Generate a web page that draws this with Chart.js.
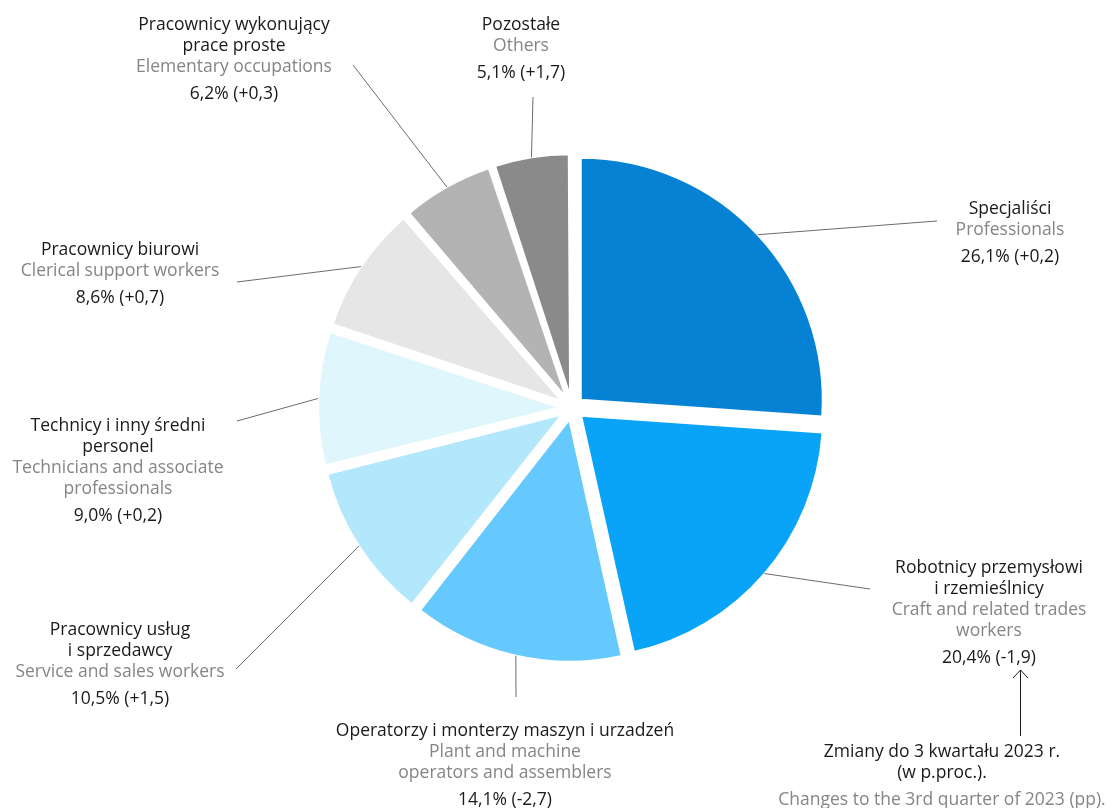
<!DOCTYPE html>
<html lang="pl">
<head>
<meta charset="utf-8">
<script src="https://cdn.jsdelivr.net/npm/chart.js@4"></script>
<style>
  html, body { margin: 0; padding: 0; background: #fff; }
  #wrap { position: relative; width: 1116px; height: 808px; overflow: hidden; }
  #chart { position: absolute; left: 0; top: 0; }
  .lbl {
    position: absolute; transform: translateX(-50%);
    text-align: center; white-space: nowrap;
    font-family: 'Open Sans', sans-serif; font-size: 17.5px; line-height: 21px;
    color: #1a1a1a;
  }
  .lbl .en { color: #858585; }
  .lbl .val { margin-top: 6px; }
</style>
</head>
<body>
<div id="wrap">
  <canvas id="chart" width="1116" height="808"></canvas>
</div>
<script>
// ── Data ──
const labelsPl = [
  ['Specjaliści'],
  ['Robotnicy przemysłowi', 'i rzemieślnicy'],
  ['Operatorzy i monterzy maszyn i urzadzeń'],
  ['Pracownicy usług', 'i sprzedawcy'],
  ['Technicy i inny średni', 'personel'],
  ['Pracownicy biurowi'],
  ['Pracownicy wykonujący', 'prace proste'],
  ['Pozostałe'],
];
const labelsEn = [
  ['Professionals'],
  ['Craft and related trades', 'workers'],
  ['Plant and machine', 'operators and assemblers'],
  ['Service and sales workers'],
  ['Technicians and associate', 'professionals'],
  ['Clerical support workers'],
  ['Elementary occupations'],
  ['Others'],
];
const shares  = [26.1, 20.4, 14.1, 10.5, 9.0, 8.6, 6.2, 5.1];
const changes = ['+0,2', '-1,9', '-2,7', '+1,5', '+0,2', '+0,7', '+0,3', '+1,7'];
const noteLines = ['Zmiany do 3 kwartału 2023 r.', '(w p.proc.).'];
const noteEn    = 'Changes to the 3rd quarter of 2023 (pp).';

// ── Style / layout ──
const colors = ['#0582d3', '#09a3f8', '#66c9fe', '#b3e8fc', '#dff6fd', '#e6e6e6', '#b3b3b3', '#8a8a8a'];
// label anchor: centre x, first line centre y; leader line end point
const labelPos  = [[1010, 207], [989, 566], [505, 729], [120, 628], [118, 424], [120, 248], [234, 23], [521, 23]];
const leaderEnd = [[937, 221], [870, 589], [516, 697], [236, 669], [237, 421], [237, 282], [353, 65], [533, 97]];
const SHIFT = 12;   // slice explode distance (px)
const RADIUS = 242;

const fmt = (v) => v.toFixed(1).replace('.', ',') + '%';

// ── Text labels ──
const wrap = document.getElementById('wrap');
function addLabel(cx, cy, pl, en, val) {
  const d = document.createElement('div');
  d.className = 'lbl';
  d.style.left = cx + 'px';
  d.style.top = (cy - 10.5) + 'px';
  let html = pl.map((t) => `<div>${t}</div>`).join('');
  html += en.map((t) => `<div class="en">${t}</div>`).join('');
  if (val) html += `<div class="val">${val}</div>`;
  d.innerHTML = html;
  wrap.appendChild(d);
}
shares.forEach((v, i) => {
  addLabel(labelPos[i][0], labelPos[i][1], labelsPl[i], labelsEn[i], `${fmt(v)} (${changes[i]})`);
});
(function () {
  const d = document.createElement('div');
  d.className = 'lbl';
  d.style.left = '942px';
  d.style.top = (750 - 10.5) + 'px';
  d.innerHTML = noteLines.map((t) => `<div>${t}</div>`).join('') +
    `<div class="en" style="margin-top:6px">${noteEn}</div>`;
  wrap.appendChild(d);
})();

// Chart.js grows small exploded arcs a little; keep every slice at the same radius
const evenRadius = {
  id: 'evenRadius',
  beforeDatasetsDraw(chart) {
    chart.getDatasetMeta(0).data.forEach((arc) => {
      const circ = arc.endAngle - arc.startAngle;
      arc.outerRadius = RADIUS - SHIFT * (1 - Math.sin(Math.min(Math.PI, circ)));
    });
  },
};

// ── Leader lines + arrow ──
const leaderPlugin = {
  id: 'leaders',
  afterDatasetsDraw(chart) {
    const ctx = chart.ctx;
    const arcs = chart.getDatasetMeta(0).data;
    ctx.save();
    ctx.strokeStyle = '#6b6b6b';
    ctx.lineWidth = 1;
    arcs.forEach((arc, i) => {
      const { x, y, startAngle, endAngle } = arc;
      const mid = (startAngle + endAngle) / 2;
      const r = RADIUS + SHIFT;
      ctx.beginPath();
      ctx.moveTo(x + Math.cos(mid) * r, y + Math.sin(mid) * r);
      ctx.lineTo(leaderEnd[i][0], leaderEnd[i][1]);
      ctx.stroke();
    });
    // arrow from note to Robotnicy change value
    ctx.strokeStyle = '#1a1a1a';
    ctx.beginPath();
    ctx.moveTo(1020.5, 736);
    ctx.lineTo(1020.5, 670);
    ctx.moveTo(1013, 678);
    ctx.lineTo(1020.5, 670);
    ctx.lineTo(1028, 678);
    ctx.stroke();
    ctx.restore();
  },
};

new Chart(document.getElementById('chart'), {
  type: 'pie',
  data: {
    labels: labelsPl.map((l) => l.join(' ')),
    datasets: [{
      data: shares,
      backgroundColor: colors,
      borderColor: '#ffffff',
      borderWidth: 2,
      offset: SHIFT * 4,
      hoverOffset: 0,
      radius: RADIUS,
    }],
  },
  options: {
    responsive: false,
    animation: false,
    layout: { padding: { left: 28, top: 8, right: 0, bottom: 0 } },
    plugins: { legend: { display: false }, tooltip: { enabled: false } },
  },
  plugins: [evenRadius, leaderPlugin],
});
</script>
</body>
</html>
